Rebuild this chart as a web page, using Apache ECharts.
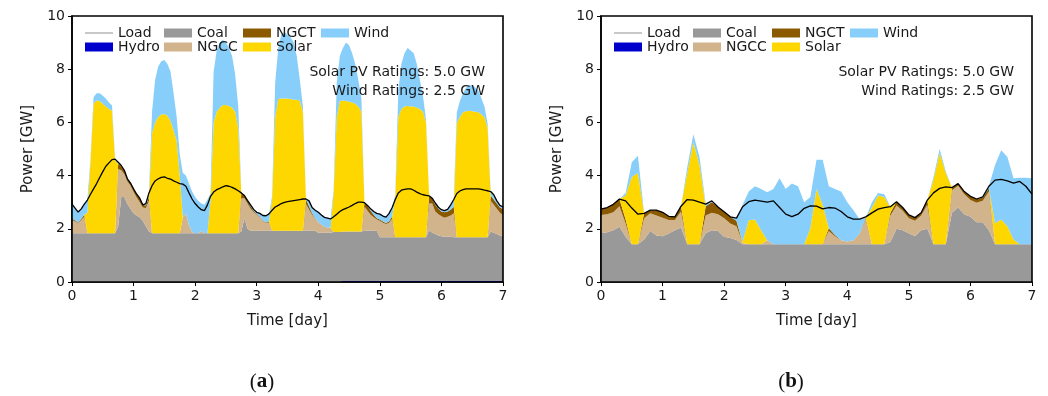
<!DOCTYPE html>
<html>
<head>
<meta charset="utf-8">
<script src="https://cdn.jsdelivr.net/npm/echarts@6/dist/echarts.min.js"></script>
<style>
  html, body { margin: 0; padding: 0; background: #fff; }
  #chart { width: 1048px; height: 396px; }
</style>
</head>
<body>
<div id="chart"></div>
<script>
// Weekly generation dispatch by source, values in GW.
// Panel (a) is sampled every 0.05 day, panel (b) every 0.1 day.
const STEP_A = 0.05;
const STEP_B = 0.1;

// ---------- (a) : one row of 20 samples per day ----------
const hydroA = [
  0,0,0,0,0,0,0,0,0,0, 0,0,0,0,0,0,0,0,0,0,
  0,0,0,0,0,0,0,0,0,0, 0,0,0,0,0,0,0,0,0,0,
  0,0,0,0,0,0,0,0,0,0, 0,0,0,0,0,0,0,0,0,0,
  0,0,0,0,0,0,0,0,0,0, 0,0,0,0,0,0,0,0,0,0,
  0,0,0,0,0,0,0,0,0.04,0.04, 0.04,0.04,0.04,0.04,0.04,0.04,0.04,0.04,0.04,0.04,
  0.04,0.04,0.04,0.04,0.04,0.04,0.04,0.04,0.04,0.04, 0.04,0.04,0.04,0.04,0.04,0.04,0.04,0.04,0.04,0.04,
  0.04,0.04,0.04,0.04,0.04,0.04,0.04,0.04,0.04,0.04, 0.04,0.04,0.04,0.04,0.04,0.04,0.04,0.04,0.04,0.04,
  0.04];
const coalA = [
  1.83,1.83,1.83,1.83,1.83,1.83,1.83,1.83,1.83,1.83, 1.83,1.83,1.83,1.83,1.83,2.10,3.20,3.20,2.93,2.75,
  2.58,2.50,2.43,2.30,2.10,1.90,1.83,1.83,1.83,1.83, 1.83,1.83,1.83,1.83,1.83,1.83,1.83,1.83,1.83,1.83,
  1.83,1.83,1.83,1.83,1.83,1.83,1.83,1.83,1.83,1.83, 1.83,1.83,1.83,1.83,1.83,1.90,2.40,2.00,1.93,1.93,
  1.93,1.93,1.93,1.93,1.93,1.93,1.93,1.93,1.93,1.93, 1.93,1.93,1.93,1.93,1.93,1.93,1.93,1.93,1.93,1.93,
  1.85,1.85,1.85,1.85,1.85,1.88,1.88,1.88,1.86,1.86, 1.86,1.86,1.86,1.86,1.86,1.89,1.89,1.89,1.89,1.89,
  1.64,1.64,1.64,1.64,1.64,1.64,1.64,1.64,1.64,1.64, 1.64,1.64,1.64,1.64,1.64,1.64,1.91,1.81,1.76,1.71,
  1.68,1.66,1.66,1.66,1.64,1.64,1.64,1.64,1.64,1.64, 1.64,1.64,1.64,1.64,1.64,1.64,1.86,1.81,1.76,1.71,
  1.68];
const ngccA = [
  0.50,0.45,0.37,0.50,0.62,0,0,0,0,0, 0,0,0,0,0,2.15,1.00,0.85,0.85,0.87,
  0.80,0.68,0.57,0.50,0.68,1.15,0,0,0,0, 0,0,0,0,0,0,0.60,0.75,0.30,0.05,
  0,0,0.10,0,0,0,0,0,0,0, 0,0,0,0,0,1.25,0.75,0.95,0.82,0.70,
  0.60,0.50,0.35,0.30,0.30,0,0,0,0,0, 0,0,0,0,0,0,1.00,0.80,0.60,0.45,
  0.40,0.32,0.23,0.20,0.20,0,0,0,0,0, 0,0,0,0,0,0.90,0.75,0.60,0.50,0.42,
  0.62,0.55,0.50,0.55,0.70,0,0,0,0,0, 0,0,0,0,0,0,1.00,1.10,0.85,0.80,
  0.75,0.72,0.75,0.80,0.90,0,0,0,0,0, 0,0,0,0,0,0,1.15,1.05,0.95,0.85,
  0.80];
const ngctA = [
  0.05,0.04,0.03,0.05,0.08,0,0,0,0,0, 0,0,0,0,0,0.20,0.15,0.13,0.10,0.12,
  0.12,0.15,0.15,0.10,0.10,0.15,0,0,0,0, 0,0,0,0,0,0,0,0,0,0,
  0,0,0,0,0,0,0,0,0,0, 0,0,0,0,0,0.20,0.12,0.12,0.10,0.05,
  0.03,0.03,0.02,0.02,0.03,0,0,0,0,0, 0,0,0,0,0,0,0.17,0.12,0.05,0.02,
  0,0,0,0,0,0,0,0,0,0, 0,0,0,0,0,0.15,0.20,0.15,0.10,0.05,
  0.05,0.04,0.04,0.05,0.08,0,0,0,0,0, 0,0,0,0,0,0,0.28,0.20,0.25,0.20,
  0.18,0.20,0.20,0.22,0.25,0,0,0,0,0, 0,0,0,0,0,0,0.20,0.20,0.20,0.20,
  0.22];
const solarA = [
  0,0,0,0,0,0.77,2.67,4.87,4.99,4.97, 4.87,4.77,4.67,4.61,2.73,0,0,0,0,0,
  0,0,0,0,0,0,3.77,4.17,4.37,4.47, 4.49,4.42,4.22,3.87,3.47,2.17,0,0,0,0,
  0,0,0,0,0,1.20,4.17,4.57,4.72,4.82, 4.82,4.79,4.72,4.57,3.97,0,0,0,0,0,
  0,0,0,0,0,1.20,4.27,4.95,4.97,4.97, 4.97,4.95,4.92,4.92,4.87,4.47,0,0,0,0,
  0,0,0,0,0,1.50,4.32,4.92,4.92,4.90, 4.88,4.85,4.80,4.70,4.50,0,0,0,0,0,
  0,0,0,0,0,1.50,4.52,4.82,4.92,4.94, 4.92,4.92,4.87,4.82,4.72,4.32,0,0,0,0,
  0,0,0,0,0,4.30,4.52,4.70,4.74,4.76, 4.74,4.72,4.70,4.62,4.52,4.12,0,0,0,0,
  0];
const windA = [
  0.55,0.45,0.40,0.37,0.40,0.50,0.10,0.25,0.28,0.30, 0.30,0.30,0.25,0.20,0.05,0,0,0,0,0,
  0,0,0,0,0.07,0.15,0.80,1.60,1.90,2.00, 2.03,1.95,1.85,1.40,0.90,0.80,1.67,1.42,1.57,1.52,
  1.37,1.22,1.02,1.07,1.27,0.30,1.90,2.30,2.45,2.45, 2.35,2.18,1.95,1.40,0.80,0,0,0,0.05,0.05,
  0.06,0.12,0.20,0.25,0.30,0.10,1.30,1.92,2.40,2.50, 2.40,2.32,2.15,1.65,0.80,0.20,0,0.20,0.22,0.30,
  0.39,0.37,0.37,0.37,0.34,0.10,1.30,1.70,1.98,2.20, 2.12,1.85,1.50,1.00,0.50,0,0,0.07,0.12,0.18,
  0.20,0.23,0.23,0.30,0.30,0.10,1.00,1.70,2.00,2.18, 2.10,2.00,1.65,1.10,0.60,0.10,0,0,0.05,0.06,
  0.07,0.06,0.08,0.18,0.25,0.40,0.60,0.72,0.88,0.96, 0.98,0.90,0.82,0.60,0.40,0.15,0.15,0.18,0.10,0.08,
  0.08];
const loadA = [
  2.93,2.78,2.63,2.75,2.93,3.08,3.30,3.50,3.70,3.93, 4.15,4.35,4.48,4.60,4.62,4.50,4.38,4.20,3.88,3.72,
  3.50,3.30,3.15,2.90,2.95,3.35,3.62,3.80,3.88,3.93, 3.95,3.90,3.87,3.80,3.75,3.70,3.68,3.60,3.35,3.12,
  2.95,2.82,2.72,2.68,2.90,3.22,3.38,3.47,3.52,3.58, 3.62,3.60,3.56,3.50,3.43,3.35,3.25,3.07,2.90,2.73,
  2.62,2.58,2.50,2.49,2.56,2.70,2.82,2.88,2.95,2.99, 3.02,3.04,3.06,3.08,3.10,3.12,3.12,3.05,2.80,2.70,
  2.62,2.52,2.43,2.40,2.37,2.45,2.55,2.65,2.72,2.77, 2.82,2.88,2.95,3.00,3.00,2.98,2.88,2.75,2.65,2.58,
  2.55,2.48,2.44,2.58,2.80,3.10,3.35,3.45,3.48,3.50, 3.50,3.45,3.38,3.32,3.28,3.26,3.24,3.15,2.97,2.81,
  2.72,2.68,2.73,2.90,3.10,3.33,3.42,3.47,3.50,3.50, 3.50,3.50,3.50,3.48,3.45,3.43,3.40,3.28,3.05,2.88,
  2.82];

// ---------- (b) : one row of 10 samples per day ----------
const hydroB = [0,0,0,0,0,0,0,0,0,0, 0,0,0,0,0,0,0,0,0,0, 0,0,0,0,0,0,0,0,0,0, 0,0,0,0,0,0,0,0,0,0, 0,0,0,0,0,0,0,0,0,0, 0,0,0,0,0,0,0,0,0,0, 0,0,0,0,0,0,0,0,0,0, 0];
const coalB  = [1.83,1.87,1.95,2.08,1.70,1.42,1.42,1.60,1.92,1.75, 1.72,1.82,1.95,2.05,1.42,1.42,1.42,1.83,1.95,1.92, 1.70,1.65,1.58,1.42,1.42,1.42,1.42,1.42,1.42,1.42, 1.42,1.42,1.42,1.42,1.42,1.42,1.42,1.42,1.42,1.42, 1.42,1.42,1.42,1.42,1.42,1.42,1.42,1.50,2.00,1.95, 1.83,1.72,1.95,2.00,1.42,1.42,1.42,2.60,2.80,2.55, 2.45,2.25,2.25,1.95,1.42,1.42,1.42,1.42,1.42,1.42, 1.42];
const ngccB  = [0.69,0.68,0.67,0.77,0.50,0,0,0.80,0.66,0.75, 0.70,0.51,0.38,0.60,0,0,0,0.67,0.65,0.63, 0.70,0.55,0.52,0.05,0,0,0,0.15,0,0, 0,0,0,0,0,0,0,0.50,0.30,0.15, 0.10,0.15,0.40,0.95,0,0,0,1.00,0.88,0.73, 0.57,0.58,0.55,0.90,0,0,0,0.85,0.82,0.75, 0.63,0.73,0.80,1.45,0,0,0,0,0,0, 0];
const ngctB  = [0.22,0.25,0.30,0.27,0.15,0,0,0.18,0.12,0.20, 0.20,0.14,0.12,0.20,0,0,0,0.35,0.40,0.27, 0.24,0.25,0.20,0,0,0,0,0,0,0, 0,0,0,0,0,0,0,0.10,0.05,0, 0,0,0,0.05,0,0,0,0.10,0.14,0.12, 0.12,0.12,0.10,0.18,0,0,0,0.10,0.08,0.10, 0.15,0.14,0.12,0.12,0,0,0,0,0,0, 0];
const solarB = [0,0,0,0,0.90,2.53,2.68,0,0,0, 0,0,0,0,2.68,3.83,2.98,0,0,0, 0,0,0,0.05,0.90,0.93,0.53,0,0,0, 0,0,0,0,0.60,2.08,1.48,0,0,0, 0,0,0,0,1.38,1.83,1.78,0.20,0,0, 0,0,0,0,2.43,3.43,2.68,0,0,0, 0,0,0,0,0.78,0.93,0.68,0.18,0,0, 0];
const windB  = [0,0,0,0,0.10,0.55,0.65,0,0,0, 0,0,0,0,0.20,0.30,0.30,0.08,0,0, 0,0,0.10,1.38,1.08,1.25,1.55,1.80,2.08,2.48, 2.08,2.28,2.18,1.58,1.18,1.10,1.70,1.58,1.73,1.83, 1.48,1.13,0.54,0,0.20,0.10,0.10,0.03,0,0, 0,0,0,0,0.10,0.15,0.05,0,0,0, 0,0,0.03,0.08,2.20,2.60,2.60,2.30,2.50,2.50, 2.48];
const loadB  = [2.74,2.80,2.92,3.12,3.05,2.78,2.55,2.58,2.70,2.70, 2.62,2.47,2.45,2.85,3.10,3.08,3.00,2.93,3.05,2.82, 2.64,2.45,2.40,2.83,3.02,3.08,3.04,3.00,3.05,2.80, 2.55,2.46,2.55,2.77,2.86,2.85,2.75,2.80,2.78,2.65, 2.45,2.36,2.36,2.45,2.60,2.74,2.80,2.83,3.02,2.80, 2.52,2.42,2.60,3.08,3.35,3.52,3.58,3.55,3.70,3.40, 3.22,3.12,3.20,3.60,3.83,3.86,3.80,3.72,3.78,3.60, 3.30];

// Axis ticks
const powerTicks = [0, 2, 4, 6, 8, 10];

const COLORS = {
  Load: '#000000',
  Hydro: '#0000cd',
  Coal: '#999999',
  NGCC: '#d2b48c',
  NGCT: '#8b5a00',
  Solar: '#ffd700',
  Wind: '#87cefa'
};

const FONT = 'DejaVu Sans';
const GRIDS = [
  { left: 72, top: 16, width: 431, height: 266 },
  { left: 601, top: 16, width: 431, height: 266 }
];

const panels = [
  { step: STEP_A, hydro: hydroA, coal: coalA, ngcc: ngccA, ngct: ngctA, solar: solarA, wind: windA, load: loadA },
  { step: STEP_B, hydro: hydroB, coal: coalB, ngcc: ngccB, ngct: ngctB, solar: solarB, wind: windB, load: loadB }
];

function areaSeries(name, values, idx) {
  return {
    type: 'line', name: name,
    xAxisIndex: idx, yAxisIndex: idx,
    stack: 'gen' + idx,
    data: values,
    symbol: 'none', showSymbol: false,
    lineStyle: { width: 0 },
    itemStyle: { color: COLORS[name] },
    areaStyle: { color: COLORS[name], opacity: 1 },
    emphasis: { disabled: true },
    silent: true,
    z: 2
  };
}

function loadSeries(values, idx) {
  return {
    type: 'line', name: 'Load',
    xAxisIndex: idx, yAxisIndex: idx,
    data: values,
    symbol: 'none', showSymbol: false,
    lineStyle: { color: '#000', width: 1.3 },
    itemStyle: { color: '#000' },
    emphasis: { disabled: true },
    silent: true,
    z: 5
  };
}

const series = [];
panels.forEach((p, idx) => {
  series.push(areaSeries('Hydro', p.hydro, idx));
  series.push(areaSeries('Coal', p.coal, idx));
  series.push(areaSeries('NGCC', p.ngcc, idx));
  series.push(areaSeries('NGCT', p.ngct, idx));
  series.push(areaSeries('Solar', p.solar, idx));
  series.push(areaSeries('Wind', p.wind, idx));
  series.push(loadSeries(p.load, idx));
});

// Legend laid out in matplotlib-style columns (4 columns, 2 rows)
const legendCells = [
  { name: 'Load', col: 0, row: 0 },
  { name: 'Hydro', col: 0, row: 1 },
  { name: 'Coal', col: 1, row: 0 },
  { name: 'NGCC', col: 1, row: 1 },
  { name: 'NGCT', col: 2, row: 0 },
  { name: 'Solar', col: 2, row: 1 },
  { name: 'Wind', col: 3, row: 0 }
];
const colOffsets = [13, 92, 171, 249];
const rowTops = [26, 40];

const legends = [];
GRIDS.forEach((g) => {
  legendCells.forEach((c) => {
    const isLoad = c.name === 'Load';
    legends.push({
      data: [isLoad
        ? { name: 'Load', icon: 'rect', itemStyle: { color: '#c8c8c8' } }
        : { name: c.name, icon: 'rect' }],
      left: g.left + colOffsets[c.col],
      top: rowTops[c.row],
      padding: 0,
      itemWidth: 28,
      itemHeight: isLoad ? 2 : 9,
      selectedMode: false,
      textStyle: { fontFamily: FONT, fontSize: 14, color: '#1a1a1a' }
    });
  });
});

const grid = GRIDS.map(g => ({ left: g.left, top: g.top, width: g.width, height: g.height, show: true, backgroundColor: '#fff', borderWidth: 0 }));

const xAxis = panels.map((p, idx) => {
  const perDay = Math.round(1 / p.step);
  const onWholeDay = (index) => index % perDay === 0;
  const times = p.load.map((_, i) => String(+(i * p.step).toFixed(2)));
  return {
    gridIndex: idx, type: 'category', data: times, boundaryGap: false,
    name: 'Time [day]', nameLocation: 'middle', nameGap: 32,
    nameTextStyle: { fontFamily: FONT, fontSize: 15, color: '#1a1a1a' },
    axisLine: { show: true, lineStyle: { color: '#000', width: 1.5 } },
    axisTick: { show: true, length: 4, interval: onWholeDay, lineStyle: { color: '#000' } },
    axisLabel: {
      fontFamily: FONT, fontSize: 14, color: '#1a1a1a', margin: 7,
      interval: onWholeDay,
      formatter: (v) => String(Math.round(+v))
    },
    splitLine: { show: false }
  };
});

const yAxis = GRIDS.map((g, idx) => ({
  gridIndex: idx, type: 'value',
  min: powerTicks[0], max: powerTicks[powerTicks.length - 1], interval: 2,
  name: 'Power [GW]', nameLocation: 'middle', nameGap: 36,
  nameTextStyle: { fontFamily: FONT, fontSize: 15, color: '#1a1a1a' },
  axisLine: { show: true, lineStyle: { color: '#000', width: 1.5 } },
  axisTick: { show: true, length: 4, lineStyle: { color: '#000' } },
  axisLabel: { fontFamily: FONT, fontSize: 14, color: '#1a1a1a', margin: 7 },
  splitLine: { show: false }
}));

const graphic = [];
GRIDS.forEach((g, idx) => {
  graphic.push({
    type: 'rect', z: 100, silent: true,
    shape: { x: g.left, y: g.top, width: g.width, height: g.height },
    style: { fill: null, stroke: '#000', lineWidth: 1.6 }
  });
  graphic.push({
    type: 'text', z: 100, silent: true,
    x: g.left + 413, y: 72,
    style: { text: 'Solar PV Ratings: 5.0 GW', font: '14px "DejaVu Sans"', fill: '#1a1a1a', align: 'right', verticalAlign: 'middle' }
  });
  graphic.push({
    type: 'text', z: 100, silent: true,
    x: g.left + 413, y: 91,
    style: { text: 'Wind Ratings: 2.5 GW', font: '14px "DejaVu Sans"', fill: '#1a1a1a', align: 'right', verticalAlign: 'middle' }
  });
  graphic.push({
    type: 'text', z: 100, silent: true,
    x: g.left + 190, y: 382,
    style: {
      text: '{p|(}{b|' + (idx === 0 ? 'a' : 'b') + '}{p|)}',
      align: 'center', verticalAlign: 'middle',
      rich: {
        p: { fontFamily: 'Liberation Serif', fontSize: 21, fill: '#111' },
        b: { fontFamily: 'Liberation Serif', fontSize: 21, fontWeight: 'bold', fill: '#111' }
      }
    }
  });
});

const chart = echarts.init(document.getElementById('chart'), null, { renderer: 'canvas' });
chart.setOption({
  animation: false,
  backgroundColor: '#fff',
  grid: grid,
  xAxis: xAxis,
  yAxis: yAxis,
  legend: legends,
  series: series,
  graphic: graphic
});
</script>
</body>
</html>
